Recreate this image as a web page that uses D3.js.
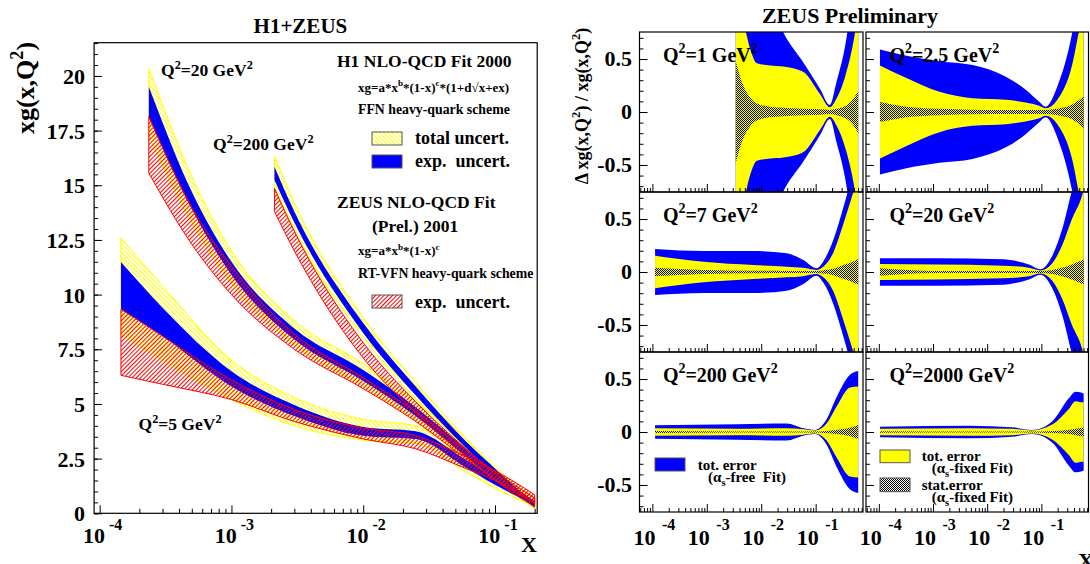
<!DOCTYPE html>
<html><head><meta charset="utf-8">
<script src="https://cdn.jsdelivr.net/npm/d3@7"></script>
<style>
body{margin:0;background:#fff}
svg{display:block}
text{font-family:"Liberation Serif","Times New Roman",serif;font-weight:bold;fill:#000;white-space:pre}
</style>
</head><body>
<svg id="c" width="1090" height="564"></svg>
<script>
// ---------------- LEFT PLOT DATA: xg(x,Q2) bands ----------------
const q5X       = [1.45e-4, 3e-4, 1e-3, 3e-3, 1e-2, 2.5e-2, 6e-2, 0.1, 0.2];
const q5TotLo   = [8.2, 7.0, 5.2, 4.0, 3.35, 3.2, 1.9, 1.15, 0.3];
const q5TotHi   = [12.6, 10.4, 7.0, 5.3, 4.3, 4.0, 2.65, 1.75, 0.65];
const q5ExpLo   = [9.33, 8.1, 5.8, 4.45, 3.55, 3.4, 2.1, 1.3, 0.38];
const q5ExpHi   = [11.49, 9.4, 6.5, 4.95, 3.95, 3.75, 2.45, 1.6, 0.55];
const q5ZeusLo  = [6.31, 5.9, 5.2, 4.2, 3.4, 2.95, 2.05, 1.5, 0.5];
const q5ZeusHi  = [9.33, 8.1, 6.1, 4.75, 3.9, 3.55, 2.6, 1.95, 0.85];

const q20X      = [2.36e-4, 5e-4, 1e-3, 3e-3, 1e-2, 2.5e-2, 6e-2, 0.1, 0.2];
const q20TotLo  = [17.25, 13.3, 10.5, 7.7, 5.8, 4.25, 2.45, 1.45, 0.3];
const q20TotHi  = [20.35, 15.4, 12.0, 8.8, 6.85, 5.1, 3.15, 2.0, 0.65];
const q20ExpLo  = [18.1, 13.9, 10.9, 7.95, 6.05, 4.45, 2.6, 1.55, 0.35];
const q20ExpHi  = [19.5, 14.7, 11.5, 8.45, 6.55, 4.85, 2.95, 1.85, 0.55];
const q20ZeusLo = [15.55, 12.3, 10.0, 7.5, 5.7, 4.2, 2.5, 1.55, 0.45];
const q20ZeusHi = [18.14, 14.0, 11.3, 8.2, 6.2, 4.65, 2.9, 1.9, 0.7];

const q200X      = [2.12e-3, 3e-3, 1e-2, 2.5e-2, 6e-2, 0.1, 0.2];
const q200TotLo  = [14.75, 12.9, 8.05, 5.2, 2.85, 1.65, 0.2];
const q200TotHi  = [16.34, 14.2, 8.95, 6.0, 3.45, 2.15, 0.45];
const q200ExpLo  = [15.24, 13.3, 8.25, 5.4, 3.0, 1.75, 0.25];
const q200ExpHi  = [15.85, 13.8, 8.7, 5.8, 3.3, 2.05, 0.4];
const q200ZeusLo = [13.8, 12.0, 7.1, 4.6, 2.6, 1.5, 0.3];
const q200ZeusHi = [14.86, 12.9, 7.8, 5.1, 2.95, 1.8, 0.5];

const leftYTicks = [0, 2.5, 5, 7.5, 10, 12.5, 15, 17.5, 20];
const leftYLabels = ["0", "2.5", "5", "7.5", "10", "12.5", "15", "17.5", "20"];
const decades = [1e-4, 1e-3, 1e-2, 1e-1];
const decadeExp = ["-4", "-3", "-2", "-1"];

// ---------------- RIGHT PLOT DATA: relative uncertainty half-widths ----------------
// free = tot. error (alpha_s free), fixed = tot. error (alpha_s fixed), stat = stat. error
const r1X     = [3.40e-3, 4.68e-3, 6.22e-3, 8.32e-3, 1.45e-2, 2.55e-2, 5.89e-2, 0.120, 0.182, 0.243, 0.355, 0.501, 0.605];
const r1Free  = [3.0, 2.4, 1.9, 1.5, 1.05, 0.75, 0.47, 0.22, 0.066, 0.29, 0.65, 1.2, 1.6];
const r1Fixed = [1.0, 0.85, 0.6, 0.46, 0.44, 0.43, 0.38, 0.17, 0.045, 0.13, 0.35, 0.68, 0.95];
const r1Stat  = [0.48, 0.25, 0.14, 0.08, 0.05, 0.04, 0.03, 0.025, 0.02, 0.03, 0.06, 0.13, 0.2];

const r2X     = [1.05e-4, 3.24e-4, 1.32e-3, 5.37e-3, 2.21e-2, 5.13e-2, 9.12e-2, 0.120, 0.200, 0.372, 0.490, 0.603];
const r2Free  = [0.59, 0.53, 0.48, 0.443, 0.333, 0.21, 0.097, 0.05, 0.25, 0.75, 1.1, 1.4];
const r2Fixed = [0.44, 0.32, 0.19, 0.13, 0.115, 0.09, 0.06, 0.035, 0.12, 0.45, 0.75, 0.95];
const r2Stat  = [0.095, 0.05, 0.03, 0.022, 0.02, 0.02, 0.02, 0.02, 0.03, 0.07, 0.11, 0.15];

const r3X     = [1.12e-4, 8.71e-4, 7.16e-3, 2.93e-2, 5.93e-2, 0.104, 0.138, 0.210, 0.299, 0.397, 0.490, 0.605];
const r3Free  = [0.217, 0.198, 0.198, 0.176, 0.113, 0.035, 0.1, 0.3, 0.55, 0.78, 1.0, 1.2];
const r3Fixed = [0.154, 0.097, 0.066, 0.05, 0.04, 0.02, 0.05, 0.18, 0.4, 0.6, 0.75, 0.9];
const r3Stat  = [0.04, 0.02, 0.012, 0.01, 0.01, 0.01, 0.015, 0.03, 0.06, 0.08, 0.1, 0.12];

const r4X     = [1.05e-4, 1.14e-3, 1.91e-2, 5.89e-2, 9.64e-2, 0.158, 0.241, 0.367, 0.562, 0.605];
const r4Free  = [0.13, 0.13, 0.12, 0.07, 0.025, 0.15, 0.4, 0.77, 1.1, 1.2];
const r4Fixed = [0.075, 0.07, 0.06, 0.04, 0.015, 0.08, 0.25, 0.5, 0.72, 0.78];
const r4Stat  = [0.035, 0.01, 0.01, 0.01, 0.01, 0.02, 0.04, 0.07, 0.11, 0.115];

const r5X     = [1.12e-4, 3.63e-3, 2.93e-2, 5.93e-2, 9.70e-2, 0.159, 0.243, 0.427, 0.605];
const r5Free  = [0.063, 0.072, 0.08, 0.035, 0.02, 0.12, 0.33, 0.54, 0.575];
const r5Fixed = [0.035, 0.03, 0.035, 0.025, 0.015, 0.08, 0.24, 0.42, 0.43];
const r5Stat  = [0.01, 0.005, 0.005, 0.005, 0.005, 0.01, 0.02, 0.04, 0.065];

const r6X     = [1.05e-4, 4.68e-3, 2.88e-2, 6.76e-2, 0.158, 0.324, 0.427, 0.562, 0.603];
const r6Free  = [0.05, 0.06, 0.045, 0.02, 0.1, 0.32, 0.38, 0.37, 0.36];
const r6Fixed = [0.03, 0.035, 0.03, 0.015, 0.07, 0.22, 0.29, 0.28, 0.28];
const r6Stat  = [0.008, 0.005, 0.005, 0.005, 0.01, 0.02, 0.03, 0.04, 0.04];

const ratioTicks = [0.5, 0, -0.5];
const ratioLabels = ["0.5", "0", "-0.5"];

// ---------------- drawing ----------------
const svg = d3.select("#c");
const defs = svg.append("defs");
function hatch(id, color, angle, gap) {
  const p = defs.append("pattern").attr("id", id).attr("patternUnits", "userSpaceOnUse")
    .attr("width", gap).attr("height", gap).attr("patternTransform", `rotate(${angle})`);
  p.append("line").attr("x1", 0.5).attr("y1", -1).attr("x2", 0.5).attr("y2", gap + 1)
    .attr("stroke", color).attr("stroke-width", 1);
}
hatch("hY", "#ffff00", -45, 3);
hatch("hR", "#ff0000", 45, 3);
const ps = defs.append("pattern").attr("id", "hS").attr("patternUnits", "userSpaceOnUse")
  .attr("width", 2).attr("height", 2);
ps.append("rect").attr("x", 0).attr("y", 0).attr("width", 1).attr("height", 1).attr("fill", "#000");
ps.append("rect").attr("x", 1).attr("y", 1).attr("width", 1).attr("height", 1).attr("fill", "#000");

function rich(g, x, y, parts, size, anchor) {
  const t = g.append("text").attr("x", x).attr("y", y).attr("font-size", size)
    .attr("text-anchor", anchor || "start");
  let shift = 0;
  parts.forEach(p => {
    const s = typeof p === "string" ? p : p[0];
    const mode = typeof p === "string" ? 0 : p[1];
    const target = mode === 1 ? -0.42 * size : (mode === -1 ? 0.28 * size : 0);
    const ts = t.append("tspan").text(s).attr("dy", target - shift);
    if (mode) ts.attr("font-size", size * 0.7);
    shift = target;
  });
  return t;
}

// ===== LEFT PLOT =====
const L = {x0: 94.1, x1: 537.2, y0: 42.7, y1: 513.3};
const lx = d3.scaleLog().domain([9.07e-5, 0.209]).range([L.x0, L.x1]);
const ly = d3.scaleLinear().domain([0, 21.52]).range([L.y1, L.y0]);

defs.append("clipPath").attr("id", "clipL").append("rect")
  .attr("x", L.x0).attr("y", L.y0).attr("width", L.x1 - L.x0).attr("height", L.y1 - L.y0);

const gBands = svg.append("g").attr("clip-path", "url(#clipL)");
function band(xs, lo, hi) {
  const pts = xs.map((x, i) => ({x, lo: lo[i], hi: hi[i]}));
  return d3.area().x(d => lx(d.x)).y0(d => ly(d.lo)).y1(d => ly(d.hi))
    .curve(d3.curveMonotoneX)(pts);
}
const sets = [
  [q5X, q5TotLo, q5TotHi, q5ExpLo, q5ExpHi, q5ZeusLo, q5ZeusHi],
  [q20X, q20TotLo, q20TotHi, q20ExpLo, q20ExpHi, q20ZeusLo, q20ZeusHi],
  [q200X, q200TotLo, q200TotHi, q200ExpLo, q200ExpHi, q200ZeusLo, q200ZeusHi]
];
sets.forEach(s => gBands.append("path").attr("d", band(s[0], s[1], s[2]))
  .attr("fill", "url(#hY)").attr("stroke", "#ffff00").attr("stroke-width", 1));
sets.forEach(s => gBands.append("path").attr("d", band(s[0], s[3], s[4]))
  .attr("fill", "#0000ff").attr("stroke", "none"));
sets.forEach(s => gBands.append("path").attr("d", band(s[0], s[5], s[6]))
  .attr("fill", "url(#hR)").attr("stroke", "#ff0000").attr("stroke-width", 1));

// axes ticks (ROOT style, inward)
const minorX = [];
[-5, -4, -3, -2, -1].forEach(k => { for (let m = 2; m <= 9; m++) minorX.push(m * Math.pow(10, k)); });
const lMinorX = minorX.filter(v => v > 9.07e-5 && v < 0.209);
svg.append("g").attr("transform", `translate(0,${L.y1})`)
  .call(d3.axisBottom(lx).tickValues(decades).tickSizeInner(-8).tickSizeOuter(0).tickFormat(""))
  .call(g => g.select(".domain").remove());
svg.append("g").attr("transform", `translate(0,${L.y1})`)
  .call(d3.axisBottom(lx).tickValues(lMinorX).tickSizeInner(-4.5).tickSizeOuter(0).tickFormat(""))
  .call(g => g.select(".domain").remove());
svg.append("g").attr("transform", `translate(${L.x0},0)`)
  .call(d3.axisLeft(ly).tickValues(leftYTicks).tickSizeInner(-8).tickSizeOuter(0).tickFormat(""))
  .call(g => g.select(".domain").remove());
svg.append("g").attr("transform", `translate(${L.x0},0)`)
  .call(d3.axisLeft(ly).tickValues(d3.range(0, 21.51, 0.5)).tickSizeInner(-4).tickSizeOuter(0).tickFormat(""))
  .call(g => g.select(".domain").remove());
svg.append("rect").attr("x", L.x0).attr("y", L.y0).attr("width", L.x1 - L.x0).attr("height", L.y1 - L.y0)
  .attr("fill", "none").attr("stroke", "#000").attr("stroke-width", 1.2);

// tick labels
const gLab = svg.append("g");
leftYTicks.forEach((v, i) => gLab.append("text").attr("x", 85).attr("y", ly(v)).attr("dy", "0.36em")
  .attr("text-anchor", "end").attr("font-size", 22).text(leftYLabels[i]));
decades.forEach((v, i) => {
  const t = lx(v);
  gLab.append("text").attr("x", t - 16.7).attr("y", 543).attr("font-size", 22).text("10");
  gLab.append("text").attr("x", t + 9.3).attr("y", 530).attr("font-size", 16).text(decadeExp[i]);
});
gLab.append("text").attr("x", 537).attr("y", 552).attr("text-anchor", "end").attr("font-size", 22).text("X");
gLab.append("text").attr("x", 300.4).attr("y", 33).attr("text-anchor", "middle").attr("font-size", 21).text("H1+ZEUS");
const yl = svg.append("g").attr("transform", "translate(34,88) rotate(-90)");
rich(yl, 0, 0, ["xg(x,Q", ["2", 1], ")"], 26, "middle");

rich(gLab, 161, 76, ["Q", ["2", 1], "=20 GeV", ["2", 1]], 17.5);
rich(gLab, 213, 150, ["Q", ["2", 1], "=200 GeV", ["2", 1]], 17.5);
rich(gLab, 138.5, 430, ["Q", ["2", 1], "=5 GeV", ["2", 1]], 17.5);

// legend
gLab.append("text").attr("x", 337).attr("y", 66.7).attr("font-size", 17.5).text("H1 NLO-QCD Fit 2000");
rich(gLab, 358, 91.7, ["xg=a*x", ["b", 1], "*(1-x)", ["c", 1], "*(1+d\u221Ax+ex)"], 13);
gLab.append("text").attr("x", 358).attr("y", 114).attr("font-size", 13.8).text("FFN heavy-quark scheme");
gLab.append("rect").attr("x", 372).attr("y", 132).attr("width", 30).attr("height", 13)
  .attr("fill", "url(#hY)").attr("stroke", "#555");
gLab.append("text").attr("x", 415).attr("y", 144).attr("font-size", 18).text("total uncert.");
gLab.append("rect").attr("x", 372).attr("y", 155).attr("width", 30).attr("height", 13)
  .attr("fill", "#0000ff").attr("stroke", "#555");
gLab.append("text").attr("x", 415).attr("y", 166.7).attr("font-size", 18).text("exp.  uncert.");
gLab.append("text").attr("x", 337).attr("y", 208).attr("font-size", 17.5).text("ZEUS NLO-QCD Fit");
gLab.append("text").attr("x", 372).attr("y", 232).attr("font-size", 17.5).text("(Prel.) 2001");
rich(gLab, 358, 255, ["xg=a*x", ["b", 1], "*(1-x)", ["c", 1]], 13);
gLab.append("text").attr("x", 358).attr("y", 278).attr("font-size", 13.8).text("RT-VFN heavy-quark scheme");
gLab.append("rect").attr("x", 372).attr("y", 295).attr("width", 30).attr("height", 13)
  .attr("fill", "url(#hR)").attr("stroke", "#555");
gLab.append("text").attr("x", 415).attr("y", 308).attr("font-size", 18).text("exp.  uncert.");

// ===== RIGHT PLOT =====
const colX = [[639.5, 863], [866, 1088.5]];
const rowY = [32, 192, 352];
const rowH = 160;
const panels = [
  {c: 0, r: 0, x: r1X, free: r1Free, fixed: r1Fixed, stat: r1Stat, q: "1"},
  {c: 1, r: 0, x: r2X, free: r2Free, fixed: r2Fixed, stat: r2Stat, q: "2.5"},
  {c: 0, r: 1, x: r3X, free: r3Free, fixed: r3Fixed, stat: r3Stat, q: "7"},
  {c: 1, r: 1, x: r4X, free: r4Free, fixed: r4Fixed, stat: r4Stat, q: "20"},
  {c: 0, r: 2, x: r5X, free: r5Free, fixed: r5Fixed, stat: r5Stat, q: "200"},
  {c: 1, r: 2, x: r6X, free: r6Free, fixed: r6Fixed, stat: r6Stat, q: "2000"}
];
const rMinorX = minorX.filter(v => v > 5.8e-5 && v < 0.74);
panels.forEach((p, k) => {
  const x0 = colX[p.c][0], x1 = colX[p.c][1], y0 = rowY[p.r], y1 = y0 + rowH;
  const sx = d3.scaleLog().domain([5.8e-5, 0.741]).range([x0, x1]);
  const sy = d3.scaleLinear().domain([-0.755, 0.755]).range([y1, y0]);
  defs.append("clipPath").attr("id", "clipR" + k).append("rect")
    .attr("x", x0).attr("y", y0).attr("width", x1 - x0).attr("height", y1 - y0);
  const g = svg.append("g").attr("clip-path", `url(#clipR${k})`);
  const sym = (arr) => d3.area().x(d => sx(d.x)).y0(d => sy(-d.h)).y1(d => sy(d.h))
    .curve(d3.curveMonotoneX)(p.x.map((x, i) => ({x, h: arr[i]})));
  g.append("path").attr("d", sym(p.free)).attr("fill", "#0000ff");
  g.append("path").attr("d", sym(p.fixed)).attr("fill", "#ffff00");
  g.append("path").attr("d", sym(p.stat)).attr("fill", "url(#hS)");

  svg.append("g").attr("transform", `translate(0,${y1})`)
    .call(d3.axisBottom(sx).tickValues(decades).tickSizeInner(-8).tickSizeOuter(0).tickFormat(""))
    .call(a => a.select(".domain").remove());
  svg.append("g").attr("transform", `translate(0,${y1})`)
    .call(d3.axisBottom(sx).tickValues(rMinorX).tickSizeInner(-4).tickSizeOuter(0).tickFormat(""))
    .call(a => a.select(".domain").remove());
  svg.append("g").attr("transform", `translate(${x0},0)`)
    .call(d3.axisLeft(sy).tickValues(ratioTicks).tickSizeInner(-8).tickSizeOuter(0).tickFormat(""))
    .call(a => a.select(".domain").remove());
  svg.append("g").attr("transform", `translate(${x0},0)`)
    .call(d3.axisLeft(sy).tickValues(d3.range(-0.7, 0.71, 0.1)).tickSizeInner(-4).tickSizeOuter(0).tickFormat(""))
    .call(a => a.select(".domain").remove());
  svg.append("rect").attr("x", x0).attr("y", y0).attr("width", x1 - x0).attr("height", rowH)
    .attr("fill", "none").attr("stroke", "#000").attr("stroke-width", 1.2);

  rich(svg, x0 + 23.4, y0 + 29.7, ["Q", ["2", 1], "=" + p.q + " GeV", ["2", 1]], 20);
  if (p.c === 0) {
    ratioTicks.forEach((v, i) => svg.append("text").attr("x", 632).attr("y", sy(v)).attr("dy", "0.33em")
      .attr("text-anchor", "end").attr("font-size", 22).text(ratioLabels[i]));
  }
  if (p.r === 2) {
    decades.forEach((v, i) => {
      const t = sx(v);
      svg.append("text").attr("x", t - 19).attr("y", 545).attr("font-size", 22).text("10");
      svg.append("text").attr("x", t + 9.5).attr("y", 530).attr("font-size", 16).text(decadeExp[i]);
    });
  }
});
svg.append("text").attr("x", 850).attr("y", 23.3).attr("text-anchor", "middle").attr("font-size", 22).text("ZEUS Preliminary");
svg.append("text").attr("x", 1078).attr("y", 568).attr("font-size", 22).text("X");
const yr = svg.append("g").attr("transform", "translate(588,106) rotate(-90)");
rich(yr, 0, 0, ["\u0394 xg(x,Q", ["2", 1], ") / xg(x,Q", ["2", 1], ")"], 18, "middle");

// right legends
svg.append("rect").attr("x", 655).attr("y", 458).attr("width", 30).attr("height", 13)
  .attr("fill", "#0000ff").attr("stroke", "#555");
svg.append("text").attr("x", 697.7).attr("y", 469.5).attr("font-size", 15).text("tot. error");
rich(svg, 708, 481.7, ["(\u03B1", ["s", -1], "-free  Fit)"], 15);
svg.append("rect").attr("x", 880).attr("y", 450).attr("width", 30).attr("height", 12.7)
  .attr("fill", "#ffff00").attr("stroke", "#555");
svg.append("text").attr("x", 921.7).attr("y", 461.2).attr("font-size", 15).text("tot. error");
rich(svg, 931.7, 473, ["(\u03B1", ["s", -1], "-fixed Fit)"], 15);
svg.append("rect").attr("x", 880).attr("y", 478).attr("width", 30).attr("height", 13.7)
  .attr("fill", "url(#hS)").attr("stroke", "#555");
svg.append("text").attr("x", 921.7).attr("y", 489.5).attr("font-size", 15).text("stat.error");
rich(svg, 931.7, 502, ["(\u03B1", ["s", -1], "-fixed Fit)"], 15);
</script>
</body></html>
